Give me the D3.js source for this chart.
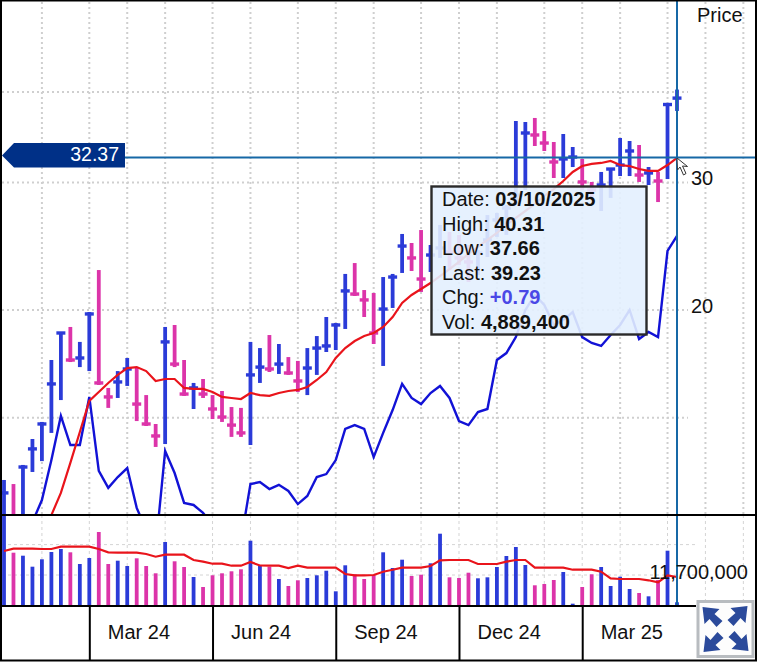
<!DOCTYPE html>
<html>
<head>
<meta charset="utf-8">
<script src="https://cdn.jsdelivr.net/npm/d3@7"></script>
<style>
  body { margin: 0; background: #fff; }
  text { font-family: "Liberation Sans", Arial, sans-serif; font-size: 20px; fill: #111; }
</style>
</head>
<body>
<div id="my_chart"></div>
<script>
// weekly bars, oldest first (last one is the week of 03/10/2025)
let high = [
  11.65,11.50,12.22,13.27,14.01,17.06,18.65,18.95,18.07,19.87,22.71,15.61,16.47,17.17,
  16.68,15.26,13.92,18.95,19.07,17.06,15.86,16.06,15.26,15.46,14.69,14.65,18.07,17.72,
  18.47,17.95,17.22,17.01,17.72,18.41,19.56,19.19,22.43,23.22,21.31,21.11,22.21,22.43,
  25.47,24.75,25.79,24.59,26.21,25.63,25.39,24.59,24.20,27.05,27.23,27.93,36.48,36.36,
  36.83,35.34,34.12,35.00,33.58,32.33,30.05,31.02,31.41,34.56,34.23,33.80,31.51,31.02,
  38.63,40.31];
let low = [
  10.32,10.10,10.26,11.95,12.37,13.53,15.02,16.95,16.68,16.47,15.76,14.65,15.12,15.71,
  14.05,13.83,12.94,13.06,16.68,15.22,14.60,15.12,14.14,14.01,13.36,13.36,13.02,15.86,
  16.42,16.32,16.27,15.41,15.26,16.27,17.50,17.61,18.83,20.91,19.56,17.95,16.74,20.13,
  22.50,22.64,21.18,22.57,23.60,22.71,23.08,21.86,22.35,23.67,25.23,25.39,27.93,29.29,
  33.69,33.16,30.43,30.43,31.51,29.29,28.37,27.40,28.56,30.62,30.62,30.05,29.76,28.19,
  30.33,37.66];
let close = [
  11.18,10.19,12.14,12.86,13.92,15.81,18.59,17.06,17.17,19.75,15.86,15.17,15.91,16.58,
  14.83,13.92,13.40,18.07,16.84,15.31,15.61,15.31,14.60,14.23,13.87,13.53,16.27,16.68,
  16.58,16.84,16.37,15.96,16.63,17.72,17.84,19.07,21.25,21.04,20.65,18.59,20.06,22.21,
  24.51,23.60,22.07,23.82,24.36,24.05,23.60,23.30,23.97,24.99,26.63,27.66,28.83,35.11,
  34.89,34.01,32.02,32.33,32.53,30.05,29.29,29.76,31.31,31.71,33.16,30.72,30.92,30.14,
  38.44,39.23];
// relative strength line, runs below the panel in places
let relStrength = [
   9.63, 9.78, 9.94,10.19,10.93,12.41,14.28,13.02,13.02,15.17,11.99,11.36,11.76,12.10,
  10.66, 9.94, 9.38,12.77,11.91,10.83,10.76,10.49,10.10, 9.94, 9.78, 9.60,11.50,11.57,
  11.32,11.47,11.25,10.79,11.07,11.76,11.87,12.41,13.70,13.87,13.70,12.53,13.53,14.55,
  15.81,15.12,14.83,15.36,15.71,15.12,14.05,13.87,14.46,14.60,17.06,17.44,18.35,20.00,
  20.98,20.32,19.07,19.37,19.87,18.35,18.01,17.84,18.47,19.07,20.00,18.24,18.65,18.35,
  24.13,25.31];
let priceMa = [
  null,null,null,null,
   9.41,10.42,11.18,12.30,13.57,14.98,15.41,15.86,16.27,16.63,16.68,16.47,15.96,16.06,
  16.06,15.61,15.56,15.56,15.41,15.17,15.12,15.07,15.36,15.26,15.22,15.36,15.46,15.51,
  15.66,16.01,16.42,17.17,17.72,18.12,18.41,18.59,18.95,19.56,20.45,20.98,21.38,21.79,
  22.28,22.78,23.30,23.90,24.44,24.99,25.55,26.21,26.80,27.40,28.02,28.74,29.38,30.14,
  31.02,31.61,31.82,31.92,32.12,31.71,31.61,31.31,31.12,31.12,31.71,32.43];
// volume in millions of shares
let volume = [
  63.15,20.91,19.15,13.87,17.23,21.34,23.30,21.15,15.01,17.90,38.36,15.01,16.54,14.16,
  17.74,14.16,11.43,28.61,16.25,13.75,10.25, 7.65,10.78,11.43,12.12,12.85,29.73,14.58,
  13.87, 9.67, 7.88, 9.31, 9.96,10.78,12.33, 6.74,14.45,11.10, 9.67,10.87,21.15,13.35,
  17.03,10.56,10.97,15.32,36.50,10.16, 9.96,11.63, 9.87,10.16,13.75,18.98,24.71,14.58,
   8.04, 8.35, 9.39,11.87, 4.69, 7.65,11.10,13.75, 7.88,10.34, 7.21, 6.41, 5.82, 9.39,
  22.17, 4.889];
let volumeMa = [
  21.98,23.51,23.51,23.51,23.30,23.30,24.93,24.93,24.93,24.93,23.30,21.15,20.91,20.91,
  20.91,20.13,18.59,19.72,19.72,19.72,16.88,16.06,15.14,15.14,14.28,14.28,15.92,14.37,
  14.28,14.28,13.35,14.28,13.47,13.47,13.47,13.47,11.20,10.78,10.78,10.87,11.98,12.70,
  13.47,13.47,13.47,14.16,16.73,16.88,16.88,16.88,15.01,15.01,15.01,16.06,16.88,16.88,
  13.47,13.47,13.47,13.47,12.70,12.70,12.70,11.98, 9.87, 9.67, 9.67, 9.67, 9.31, 8.78,
  10.78,10.25];

let priceGrid = [40, 30, 20, 14.2];
let priceLabels = [30, 20];
let volumeGrid = [10.87, 26.5];
let volumeLabel = [11.7];
// bar numbers where a month starts / where a quarter starts
let monthBars = [4, 9, 13, 17, 22, 26, 31, 35, 39, 44, 48, 52, 57, 61, 65, 70, 74, 78];
let quarterBars = [9, 22, 35, 48, 61];
let quarterNames = ["Mar 24", "Jun 24", "Sep 24", "Dec 24", "Mar 25"];

let crossPrice = 32.37;
let tipLabels = ["Date: ", "High: ", "Low: ", "Last: ", "Chg: ", "Vol: "];
let tipValues = ["03/10/2025", "40.31", "37.66", "39.23", "+0.79", "4,889,400"];

let width = 757, height = 663;
let blue = "#2b3bd8", pink = "#dc34a9", red = "#e9141b", navy = "#003087", cross = "#1668a6";

let svg = d3.select("#my_chart")
  .append("svg")
  .attr("width", width)
  .attr("height", height)
  .style("display", "block");

let x = d3.scaleLinear().domain([0, 71]).range([4, 677]);
let y = d3.scaleLog().domain([20, 40]).range([310, 92]);
let yVol = d3.scaleLog().domain([4.42, 11.7]).range([605.7, 572.5]);

let clip = svg.append("defs");
clip.append("clipPath").attr("id", "priceClip")
  .append("rect").attr("x", 2).attr("y", 0).attr("width", width).attr("height", 515);
clip.append("clipPath").attr("id", "volClip")
  .append("rect").attr("x", 2).attr("y", 515).attr("width", width).attr("height", 91);

let isUp = (d, i) => i == 0 || close[i] >= close[i - 1];
let barColor = (d, i) => isUp(d, i) ? blue : pink;

// grid
let grid = svg.append("g").attr("fill", "none");
grid.selectAll(".vp").data(monthBars).enter().append("line")
  .attr("x1", d => x(d)).attr("x2", d => x(d))
  .attr("y1", 2).attr("y2", 515)
  .attr("stroke", "#cfcfcf").attr("stroke-width", 2).attr("stroke-dasharray", "2,3");
grid.selectAll(".hp").data(priceGrid).enter().append("line")
  .attr("x1", 2).attr("x2", 688)
  .attr("y1", d => y(d)).attr("y2", d => y(d))
  .attr("stroke", "#cfcfcf").attr("stroke-width", 2).attr("stroke-dasharray", "2,3");
grid.selectAll(".vv").data(monthBars).enter().append("line")
  .attr("x1", d => x(d)).attr("x2", d => x(d))
  .attr("y1", 515).attr("y2", 606)
  .attr("stroke", "#d4d4d4").attr("stroke-dasharray", "3,3");
grid.selectAll(".hv").data(volumeGrid).enter().append("line")
  .attr("x1", 2).attr("x2", 698)
  .attr("y1", d => yVol(d)).attr("y2", d => yVol(d))
  .attr("stroke", "#d4d4d4").attr("stroke-dasharray", "3,3");

// price panel
let price = svg.append("g").attr("clip-path", "url(#priceClip)");

price.append("path")
  .datum(relStrength)
  .attr("fill", "none").attr("stroke", "#1212d6").attr("stroke-width", 2.4)
  .attr("d", d3.line().x((d, i) => x(i)).y(d => y(d)));

price.selectAll(".hl").data(high).enter().append("line")
  .attr("x1", (d, i) => x(i)).attr("x2", (d, i) => x(i))
  .attr("y1", d => y(d)).attr("y2", (d, i) => y(low[i]))
  .attr("stroke", barColor).attr("stroke-width", 3.8);
price.selectAll(".cl").data(close).enter().append("line")
  .attr("x1", (d, i) => x(i) - 4.5).attr("x2", (d, i) => x(i) + 4.5)
  .attr("y1", d => y(d)).attr("y2", d => y(d))
  .attr("stroke", barColor).attr("stroke-width", 3.4);

price.append("path")
  .datum(priceMa)
  .attr("fill", "none").attr("stroke", red).attr("stroke-width", 2.2)
  .attr("d", d3.line().defined(d => d != null).x((d, i) => x(i)).y(d => y(d)));

// volume panel
let vol = svg.append("g").attr("clip-path", "url(#volClip)");
vol.selectAll(".vb").data(volume).enter().append("line")
  .attr("x1", (d, i) => x(i)).attr("x2", (d, i) => x(i))
  .attr("y1", d => yVol(d)).attr("y2", 606)
  .attr("stroke", barColor).attr("stroke-width", 3.8);
vol.append("path")
  .datum(volumeMa)
  .attr("fill", "none").attr("stroke", red).attr("stroke-width", 2.2)
  .attr("d", d3.line().x((d, i) => x(i)).y(d => yVol(d)));

// crosshair
svg.append("line").attr("x1", x(71)).attr("x2", x(71)).attr("y1", 0).attr("y2", 606)
  .attr("stroke", cross).attr("stroke-width", 2);
svg.append("line").attr("x1", 125).attr("x2", width).attr("y1", y(crossPrice) - 1).attr("y2", y(crossPrice) - 1)
  .attr("stroke", cross).attr("stroke-width", 2);

// panel lines and frame
svg.append("line").attr("x1", 0).attr("x2", width).attr("y1", 515).attr("y2", 515)
  .attr("stroke", "#000").attr("stroke-width", 2);
svg.append("line").attr("x1", 0).attr("x2", 696).attr("y1", 606).attr("y2", 606)
  .attr("stroke", "#000").attr("stroke-width", 2);
svg.append("rect").attr("x", 1).attr("y", 0.5).attr("width", 755).attr("height", 660)
  .attr("fill", "none").attr("stroke", "#000").attr("stroke-width", 2);

// date axis, the names sit to the right of their tick
let xAxis = svg.append("g")
  .attr("transform", "translate(0,606)")
  .call(d3.axisBottom(x)
    .tickValues(quarterBars)
    .tickSize(54)
    .tickFormat((d, i) => quarterNames[i]));
xAxis.select(".domain").remove();
xAxis.selectAll("line").attr("stroke", "#000").attr("stroke-width", 2);
xAxis.selectAll("text")
  .attr("text-anchor", "start")
  .attr("x", 18).attr("y", 33).attr("dy", 0)
  .style("font-size", "20px");

// price axis
let yAxis = svg.append("g")
  .attr("transform", "translate(691,-4)")
  .call(d3.axisRight(y).tickValues(priceLabels).tickSize(0).tickPadding(0).tickFormat(d3.format("d")));
yAxis.select(".domain").remove();
yAxis.selectAll("text").style("font-size", "20px");

svg.append("text").attr("x", 697).attr("y", 22).text("Price");

// volume label goes over the bars and the crosshair
let volAxis = svg.append("g")
  .attr("transform", "translate(748,0)")
  .call(d3.axisLeft(yVol).tickValues(volumeLabel).tickSize(0).tickPadding(0)
    .tickFormat(d => d3.format(",")(Math.round(d * 1e6))));
volAxis.select(".domain").remove();
volAxis.selectAll("text").style("font-size", "20px");

// current price flag
svg.append("path")
  .attr("d", "M2,155.5 L14,143 L125,143 L125,167.5 L14,167.5 Z")
  .attr("fill", navy);
svg.append("text")
  .attr("x", 119).attr("y", 161).attr("text-anchor", "end")
  .style("fill", "#fff").style("font-size", "19.5px")
  .text(d3.format(".2f")(crossPrice));

// tooltip
svg.append("rect")
  .attr("x", 431.5).attr("y", 186.5).attr("width", 215).attr("height", 148)
  .attr("fill", "#e3f0fe").attr("fill-opacity", 0.9)
  .attr("stroke", "#2a2a2a").attr("stroke-width", 2.4);
let rows = svg.selectAll(".tip").data(tipLabels).enter().append("text")
  .attr("x", 442)
  .attr("y", (d, i) => 206 + i * 24.6);
rows.append("tspan").text(d => d);
rows.append("tspan")
  .attr("font-weight", "bold")
  .style("fill", (d, i) => i == 4 ? "#4a48e6" : "#111")
  .text((d, i) => tipValues[i]);

// mouse pointer
svg.append("path")
  .attr("d", "M677,158 L677.5,170 L680,167 L683.5,175 L686,173.5 L682.5,166 L687.5,166.5 Z")
  .attr("fill", "#fff").attr("stroke", "#333").attr("stroke-width", 1);

// expand button in the corner
let btn = svg.append("g").attr("transform", "translate(725.5,629)");
btn.append("rect").attr("x", -27.5).attr("y", -27.5).attr("width", 55).attr("height", 55)
  .attr("fill", "#fdfdfd").attr("stroke", "#b8bcc0").attr("stroke-width", 3);
btn.selectAll("path").data([0, 90, 180, 270]).enter().append("path")
  .attr("d", "M-23,-22 L-6,-20 L-11,-15 L-3,-8 L-9,-2 L-16,-10 L-21,-5 Z")
  .attr("transform", d => "rotate(" + d + ")")
  .attr("fill", "#2b4a9b");
</script>
</body>
</html>
